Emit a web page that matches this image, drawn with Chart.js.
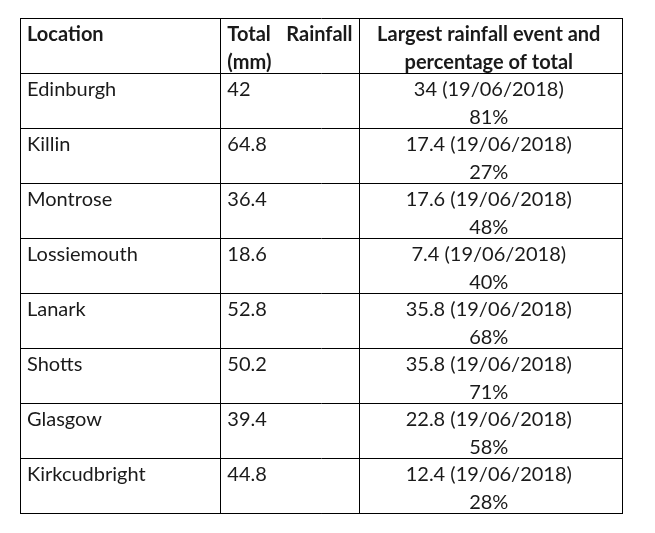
<!DOCTYPE html>
<html>
<head>
<meta charset="utf-8">
<title>Rainfall table</title>
<script src="https://cdn.jsdelivr.net/npm/chart.js@4.4.0/dist/chart.umd.min.js"></script>
<style>
  html, body { margin: 0; padding: 0; background: #ffffff; }
  #wrap { width: 655px; height: 533px; }
</style>
</head>
<body>
<div id="wrap"><canvas id="table"></canvas></div>
<script>
// Table content
const headers = ["Location", "Total Rainfall (mm)", "Largest rainfall event and percentage of total"];
const locations = ["Edinburgh", "Killin", "Montrose", "Lossiemouth", "Lanark", "Shotts", "Glasgow", "Kirkcudbright"];
const totalRainfall = [42, 64.8, 36.4, 18.6, 52.8, 50.2, 39.4, 44.8];
const largestEvent = [34, 17.4, 17.6, 7.4, 35.8, 35.8, 22.8, 12.4];
const eventDates = ["19/06/2018", "19/06/2018", "19/06/2018", "19/06/2018", "19/06/2018", "19/06/2018", "19/06/2018", "19/06/2018"];
const percentOfTotal = [81, 27, 48, 40, 68, 71, 58, 28];

// column boundaries on the x scale (relative widths)
const colEdges = [0, 200, 339, 601];
const rowCount = locations.length + 1;

const FONT = "Lato, 'Open Sans', sans-serif";
const TEXT = "#1a1a1a";

const tablePlugin = {
  id: "tableText",
  afterDraw(chart) {
    const { ctx, scales: { x, y } } = chart;
    const padX = 7;
    const line1 = 16.5, line2 = 44.5;

    function cellText(col, row, txt, align, bold, dy) {
      const left = x.getPixelForValue(colEdges[col]);
      const right = x.getPixelForValue(colEdges[col + 1]);
      const top = y.getPixelForValue(row);
      ctx.font = (bold ? "bold " : "") + "20px " + FONT;
      ctx.fillStyle = TEXT;
      ctx.textBaseline = "middle";
      ctx.textAlign = align;
      let px = left + padX;
      if (align === "center") px = (left + right) / 2 - 2;
      if (align === "right") px = right - padX;
      ctx.fillText(txt, px, top + dy);
    }

    ctx.save();
    // header row
    cellText(0, 0, headers[0], "left", true, line1);
    const h2 = headers[1].split(" ");
    cellText(1, 0, h2[0], "left", true, line1);
    cellText(1, 0, h2[1], "right", true, line1);
    cellText(1, 0, h2[2], "left", true, line2);
    cellText(2, 0, "Largest rainfall event and", "center", true, line1);
    cellText(2, 0, "percentage of total", "center", true, line2);

    // body rows
    locations.forEach((loc, i) => {
      const r = i + 1;
      cellText(0, r, loc, "left", false, line1);
      cellText(1, r, String(totalRainfall[i]), "left", false, line1);
      cellText(2, r, largestEvent[i] + " (" + eventDates[i] + ")", "center", false, line1);
      cellText(2, r, percentOfTotal[i] + "%", "center", false, line2);
    });
    ctx.restore();
  }
};

new Chart(document.getElementById("table"), {
  type: "scatter",
  data: { datasets: [{ data: [] }] },
  options: {
    responsive: true,
    maintainAspectRatio: false,
    animation: false,
    events: [],
    layout: { padding: { left: 20, top: 18, right: 33, bottom: 20 } },
    plugins: { legend: { display: false }, tooltip: { enabled: false } },
    scales: {
      x: {
        type: "linear",
        min: colEdges[0],
        max: colEdges[colEdges.length - 1],
        afterBuildTicks: (axis) => { axis.ticks = colEdges.map((v) => ({ value: v })); },
        ticks: { display: false },
        grid: { color: "#000", lineWidth: 1, drawTicks: false },
        border: { color: "#000", width: 1 }
      },
      y: {
        type: "linear",
        reverse: true,
        min: 0,
        max: rowCount,
        afterBuildTicks: (axis) => {
          axis.ticks = Array.from({ length: rowCount + 1 }, (_, k) => ({ value: k }));
        },
        ticks: { display: false },
        grid: { color: "#000", lineWidth: 1, drawTicks: false },
        border: { color: "#000", width: 1 }
      }
    }
  },
  plugins: [tablePlugin]
});
</script>
</body>
</html>
